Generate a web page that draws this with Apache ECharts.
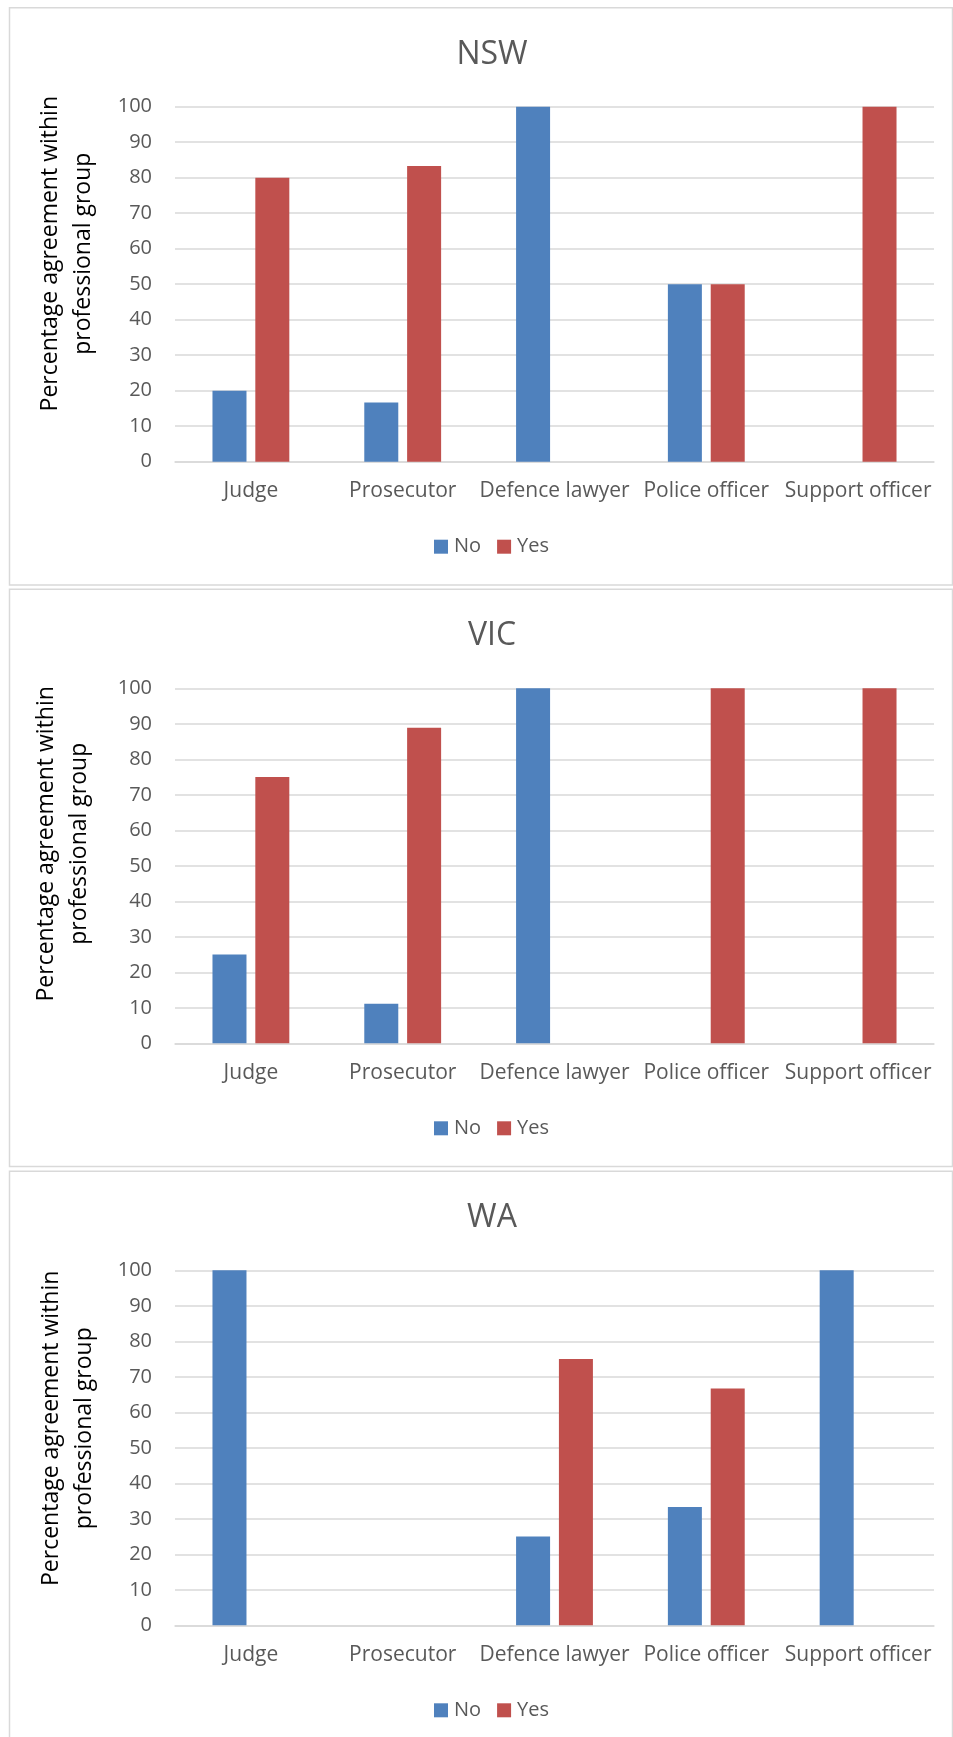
<!DOCTYPE html>
<html>
<head>
<meta charset="utf-8">
<script src="https://cdn.jsdelivr.net/npm/echarts@6/dist/echarts.min.js"></script>
<style>
html,body{margin:0;padding:0;background:#fff;}
#chart{width:953px;height:1737px;}
</style>
</head>
<body>
<div id="chart"></div>
<script>
// ---- data ----
const categories = ['Judge', 'Prosecutor', 'Defence lawyer', 'Police officer', 'Support officer'];
const panelTitles = ['NSW', 'VIC', 'WA'];
const seriesNames = ['No', 'Yes'];
const nswNo  = [20, 16.67, 100, 50, 0];
const nswYes = [80, 83.33, 0, 50, 100];
const vicNo  = [25, 11.11, 100, 0, 0];
const vicYes = [75, 88.89, 0, 100, 100];
const waNo   = [100, 0, 25, 33.33, 100];
const waYes  = [0, 0, 75, 66.67, 0];
const yAxisTitle = 'Percentage agreement within\nprofessional group';
const yMin = 0, yMax = 100, yStep = 10;

// ---- layout ----
const panelData = [[nswNo, nswYes], [vicNo, vicYes], [waNo, waYes]];
const panelTops = [7.7, 589.3, 1171.3];
const nameOffsets = [246, 254.5, 257];
const nameX = [67, 63, 68];
const FONT = '"Open Sans", "Liberation Sans", sans-serif';
const colors = ['#4f81bd', '#c0504d'];

const option = {
  animation: false,
  backgroundColor: '#ffffff',
  title: [], grid: [], xAxis: [], yAxis: [], legend: [], series: [], graphic: []
};

panelTops.forEach((T, i) => {
  option.graphic.push({
    type: 'rect', silent: true, z: -10,
    shape: { x: 9.5, y: T, width: 943, height: i === 2 ? 620 : 577.3 },
    style: { fill: 'none', stroke: '#d9d9d9', lineWidth: 1.5 }
  });
  option.graphic.push({
    type: 'text', silent: true,
    x: nameX[i], y: T + nameOffsets[i], rotation: Math.PI / 2,
    style: {
      text: yAxisTitle, font: '23px ' + FONT, fill: '#000000',
      align: 'center', verticalAlign: 'middle', lineHeight: 33
    }
  });
  option.title.push({
    text: panelTitles[i], left: 487, top: T + 26, textAlign: 'center',
    textStyle: { fontFamily: FONT, fontSize: 32, fontWeight: 'normal', color: '#595959' }
  });
  option.grid.push({ left: 175, width: 759, top: T + 99, height: 355 });
  option.xAxis.push({
    type: 'category', gridIndex: i, data: categories,
    axisTick: { show: false },
    axisLine: { lineStyle: { color: '#d9d9d9', width: 1.5 } },
    axisLabel: { fontFamily: FONT, fontSize: 21, color: '#595959', margin: 19, interval: 0 }
  });
  option.yAxis.push({
    type: 'value', gridIndex: i, min: yMin, max: yMax, interval: yStep,
    axisLine: { show: false }, axisTick: { show: false },
    splitLine: { lineStyle: { color: '#d9d9d9', width: 1.5 } },
    axisLabel: { fontFamily: FONT, fontSize: 20, color: '#595959', margin: 23 }
  });
  option.legend.push({
    data: seriesNames, left: 434, top: T + 529, padding: 0,
    itemWidth: 14, itemHeight: 14, itemGap: 16, icon: 'rect',
    textStyle: { fontFamily: FONT, fontSize: 20, color: '#595959', padding: [0, 0, 0, 1] }
  });
  seriesNames.forEach((nm, s) => {
    option.series.push({
      name: nm, type: 'bar', xAxisIndex: i, yAxisIndex: i,
      data: panelData[i][s], barWidth: 34, barGap: '26%',
      itemStyle: { color: colors[s] }
    });
  });
});

const chart = echarts.init(document.getElementById('chart'), null, { renderer: 'canvas' });
chart.setOption(option);
</script>
</body>
</html>
